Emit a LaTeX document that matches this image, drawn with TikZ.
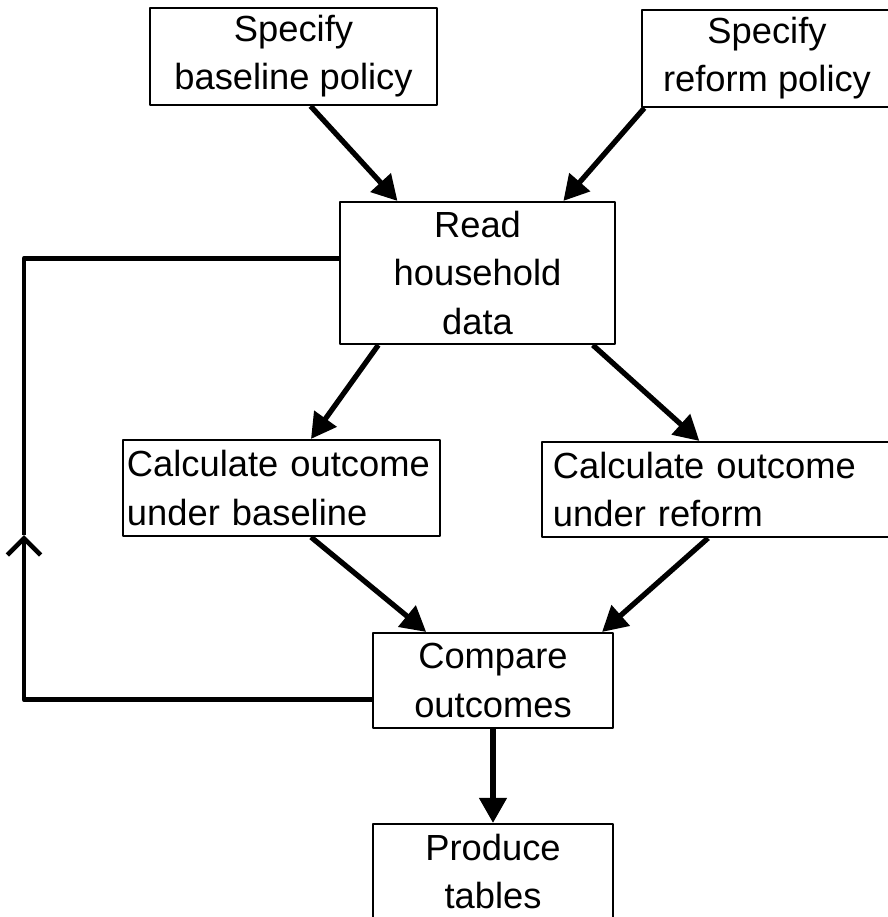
\documentclass[tikz,border=0pt]{standalone}
\usepackage{fontspec}
\setmainfont{Liberation Sans}
\usetikzlibrary{arrows.meta}
\tikzset{
	box/.style={draw,line width=1.8pt,inner sep=0pt,align=center},
	flow/.style={line width=4.5pt,-{Triangle[length=.75cm,width=.8cm]}},
	back/.style={line width=4pt},
}
\begin{document}
\begin{tikzpicture}[line join=round,x=.03cm,y=-.03cm,font=\fontsize{31}{41}\selectfont]
	\useasboundingbox (0,0) rectangle (887,917);
	\node[box,minimum width=8.61cm,minimum height=2.91cm] (basepol) at (293.5,56.5) {Specify\\baseline policy};
	\node[box,minimum width=7.5cm,minimum height=2.91cm] (refpol) at (767,58.5) {Specify\\reform policy};
	\node[box,minimum width=8.25cm,minimum height=4.26cm] (read) at (477.5,273) {Read\\household\\data};
	\node[box,align=left,inner xsep=.12cm,text width=9.27cm,minimum height=2.88cm] (calcbase) at (281.5,488) {Calculate outcome\\under baseline};
	\node[box,align=left,inner xsep=.33cm,text width=10.14cm,minimum height=2.85cm] (calcref) at (722,489.5) {Calculate outcome\\under reform};
	\node[box,minimum width=7.2cm,minimum height=2.85cm] (compare) at (493,680.5) {Compare\\outcomes};
	\node[box,minimum width=7.2cm,minimum height=2.85cm] (tables) at (493,871.5) {Produce\\tables};
	% arrows
	\draw[flow] (basepol.-71) -- (read.138);
	\draw[flow] (refpol.-158) -- (read.40);
	\draw[flow] (read.-144) -- (calcbase.59);
	\draw[flow] (read.-32) -- (calcref.115);
	\draw[flow] (calcbase.-59) -- (compare.144);
	\draw[flow] (calcref.-106) -- (compare.24);
	\draw[flow] (compare.south) -- (tables.north);
	% loop back
	\coordinate (loopup) at (24,535);
	\draw[back,-{Straight Barb[length=.5cm,width=1cm]}] (compare.-171) -| (loopup);
	\draw[back] (loopup) |- (read.174);
\end{tikzpicture}
\end{document}
